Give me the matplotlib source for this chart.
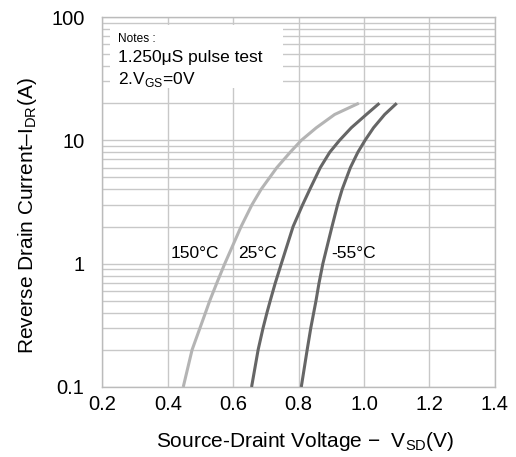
import matplotlib
matplotlib.use("Agg")
import matplotlib.pyplot as plt
from matplotlib.ticker import FixedLocator, FixedFormatter, LogLocator, NullFormatter

plt.rcParams['font.family'] = ['Liberation Sans', 'DejaVu Sans']
plt.rcParams['mathtext.fontset'] = 'custom'
plt.rcParams['mathtext.rm'] = 'Liberation Sans'

# current values (A) shared by all curves
current = [0.1, 0.2, 0.3, 0.4, 0.5, 0.69, 1.0, 2.0, 3.0, 4.0, 6.0, 8.0, 10.0, 12.65, 16.2, 20.0]

# source-drain voltage (V)
v_150 = [0.447, 0.474, 0.498, 0.515, 0.528, 0.549, 0.574, 0.624, 0.657, 0.685,
         0.733, 0.774, 0.808, 0.854, 0.910, 0.984]
v_25 = [0.656, 0.676, 0.691, 0.703, 0.713, 0.728, 0.747, 0.783, 0.812, 0.834,
        0.866, 0.895, 0.925, 0.961, 1.007, 1.047]
v_m55 = [0.808, 0.826, 0.837, 0.846, 0.853, 0.862, 0.874, 0.902, 0.919, 0.933,
         0.958, 0.981, 1.003, 1.029, 1.063, 1.100]

curve_labels = ["150°C", "25°C", "-55°C"]
label_x = [0.4815, 0.675, 0.968]
label_y = 1.2

x_ticks = [0.2, 0.4, 0.6, 0.8, 1.0, 1.2, 1.4]
x_tick_labels = ["0.2", "0.4", "0.6", "0.8", "1.0", "1.2", "1.4"]
y_ticks = [0.1, 1, 10, 100]
y_tick_labels = ["0.1", "1", "10", "100"]

fig = plt.figure(figsize=(5.16, 4.57), dpi=100)
ax = fig.add_axes([0.1986, 0.1532, 0.7604, 0.8096])

grid_col = "#c8c8c8"
for v, col in [(v_150, "#b4b4b4"), (v_25, "#666666"), (v_m55, "#666666")]:
    ax.plot(v, current, color=col, lw=2.2, zorder=3,
            solid_capstyle="butt", solid_joinstyle="round")

ax.set_yscale("log")
ax.set_xlim(0.2, 1.4)
ax.set_ylim(0.1, 100)

ax.xaxis.set_major_locator(FixedLocator(x_ticks))
ax.xaxis.set_major_formatter(FixedFormatter(x_tick_labels))
ax.yaxis.set_major_locator(FixedLocator(y_ticks))
ax.yaxis.set_major_formatter(FixedFormatter(y_tick_labels))
ax.yaxis.set_minor_locator(LogLocator(base=10, subs=range(2, 10)))
ax.yaxis.set_minor_formatter(NullFormatter())

ax.grid(True, which="major", color=grid_col, lw=1.0)
ax.grid(True, which="minor", axis="y", color=grid_col, lw=1.0)
ax.tick_params(which="both", length=0, labelsize=14.5)
ax.tick_params(axis="y", pad=13)
ax.tick_params(axis="x", pad=6)
for s in ax.spines.values():
    s.set_color("#bbbbbb")
    s.set_linewidth(1.0)

for lab, lx in zip(curve_labels, label_x):
    ax.text(lx, label_y, lab, fontsize=12.5, ha="center", va="center", zorder=4)

# notes box
ax.add_patch(plt.Rectangle((0.223, 26.8), 0.751 - 0.223, 86.2 - 26.8,
                           facecolor="white", edgecolor="none", zorder=2.5))
ax.text(0.247, 66.5, "Notes :", fontsize=8.6, va="center", zorder=5)
ax.text(0.247, 46.7, "1.250μS pulse test", fontsize=12.5, va="center", zorder=5)
ax.text(0.247, 31, r"2.V$_{\mathregular{GS}}$=0V", fontsize=12.5, va="center", zorder=5)

ax.set_xlabel(r"Source-Draint Voltage $-$  V$_{\mathregular{SD}}$(V)", fontsize=15)
ax.xaxis.set_label_coords(0.518, -0.148)
ax.xaxis.label.set_va("center")
ax.set_ylabel(r"Reverse Drain Current–I$_{\mathregular{DR}}$(A)", fontsize=15)
ax.yaxis.set_label_coords(-0.19, 0.462)
ax.yaxis.label.set_va("center")

fig.savefig("out.png", dpi=100)
